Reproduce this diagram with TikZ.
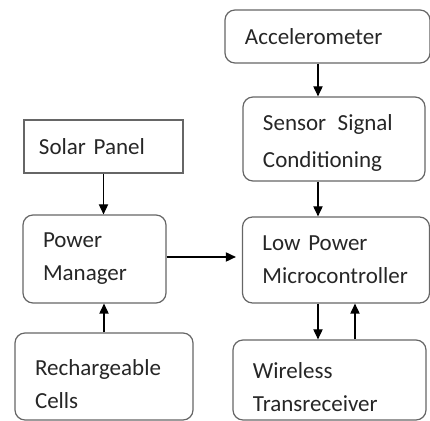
\documentclass[tikz,border=0pt]{standalone}
\usepackage{fontspec}
\setmainfont{Carlito}
\usetikzlibrary{arrows.meta}

\begin{document}
\begin{tikzpicture}[x=0.5pt, y=-0.5pt,
		every node/.style={font=\fontsize{11.5}{16.5}\selectfont, text=black!85},
		blk/.style={draw=black!60, line width=0.6pt, rounded corners=5pt, inner xsep=10pt, inner ysep=0pt, align=left},
		arr/.style={-{Triangle[length=5pt, width=4.6pt]}, line width=0.6pt}]
		\useasboundingbox (0,0) rectangle (430,421);
		\node[blk, text width=82.5pt, minimum height=26.5pt] (acc) at (327.5,36.5) {Accelerometer};
		\node[blk, text width=71pt, minimum height=42pt] (ssc) at (334,139) {\rule{0pt}{12pt}Sensor\hspace{0.5em}Signal\\[2pt]Conditioning};
		\node[blk, rounded corners=0pt, inner xsep=7.5pt, text width=64.5pt, minimum height=26.5pt] (sp) at (103.5,146.5) {Solar Panel};
		\node[blk, text width=51.5pt, minimum height=44pt] (pm) at (94.5,259) {Power\\Manager};
		\node[blk, text width=73.5pt, minimum height=43pt] (lpm) at (336,260) {Low Power\\Microcontroller};
		\node[blk, text width=69pt, minimum height=43.5pt] (rc) at (104,376.5) {\rule{0pt}{15.5pt}Rechargeable\\Cells};
		\node[blk, text width=76.5pt, minimum height=40pt] (wt) at (329.5,380) {\rule{0pt}{15.5pt}Wireless\\Transreceiver};
		\draw[arr] ([xshift=-4.75pt]acc.south) -- ([xshift=-4.75pt]acc.south |- ssc.north);
		\draw[arr] ([xshift=-8pt]ssc.south) -- ([xshift=-8pt]ssc.south |- lpm.north);
		\draw[arr] (sp.south) -- (sp.south |- pm.north);
		\draw[arr] (rc.north) -- (rc.north |- pm.south);
		\draw[arr, shorten >=3pt] ([yshift=1pt]pm.east) -- ([yshift=1pt]pm.east -| lpm.west);
		\draw[arr] ([xshift=-9pt]lpm.south) -- ([xshift=-9pt]lpm.south |- wt.north);
		\draw[arr] ([xshift=9.5pt]lpm.south |- wt.north) -- ([xshift=9.5pt]lpm.south);
	\end{tikzpicture}
\end{document}
